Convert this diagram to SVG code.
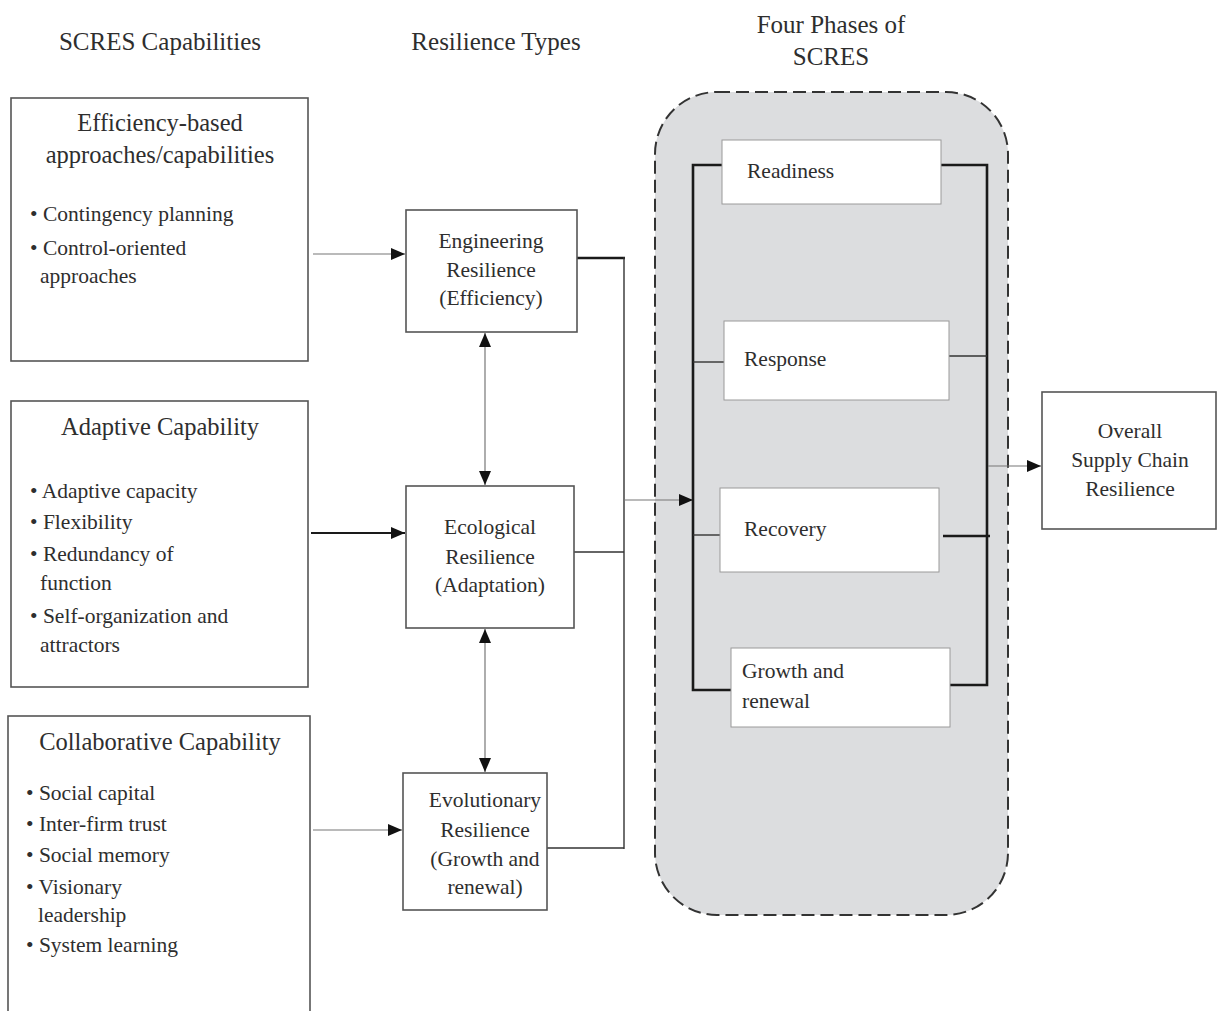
<svg xmlns="http://www.w3.org/2000/svg" width="1217" height="1011" viewBox="0 0 1217 1011">
  <style>
    text { font-family: "Liberation Serif", "Times New Roman", serif; fill: #2e2e2e; }
    .hdr { font-size: 25px; text-anchor: middle; }
    .ttl { font-size: 24.5px; text-anchor: middle; }
    .bul { font-size: 21.5px; }
    .mid { font-size: 21.5px; text-anchor: middle; }
    .box { fill: #ffffff; stroke: #555555; stroke-width: 1.6; }
    .phase { fill: #ffffff; stroke: #9a9a9a; stroke-width: 1; }
    .thin { stroke: #333333; stroke-width: 1.4; fill: none; }
    .grey { stroke: #777777; stroke-width: 1.2; fill: none; }
    .thick { stroke: #1a1a1a; stroke-width: 2.6; fill: none; }
    .mid2 { stroke: #1a1a1a; stroke-width: 2; fill: none; }
  </style>
  <defs>
    <marker id="arrow" viewBox="0 0 14 12" refX="14" refY="6" markerWidth="14" markerHeight="12" markerUnits="userSpaceOnUse" orient="auto-start-reverse">
      <path d="M0,0 L14,6 L0,12 Z" fill="#111111"/>
    </marker>
  </defs>

  <!-- column headings -->
  <g id="headings">
    <text class="hdr" x="160" y="50">SCRES Capabilities</text>
    <text class="hdr" x="496" y="50">Resilience Types</text>
    <text class="hdr" x="831" y="33">Four Phases of</text>
    <text class="hdr" x="831" y="65">SCRES</text>
  </g>

  <!-- phase container -->
  <g id="phase-container">
    <rect x="655" y="92" width="353" height="823" rx="62" ry="62" fill="#dcdddf" stroke="#333333" stroke-width="2" stroke-dasharray="13 6"/>
  </g>

  <!-- connectors -->
  <g id="connectors">
    <!-- capabilities to resilience types -->
    <line class="grey" x1="313" y1="254" x2="405" y2="254" marker-end="url(#arrow)"/>
    <line class="mid2" x1="311" y1="533" x2="405" y2="533" marker-end="url(#arrow)"/>
    <line class="grey" x1="313" y1="830" x2="402" y2="830" marker-end="url(#arrow)"/>
    <!-- between resilience types -->
    <line class="grey" x1="485" y1="333" x2="485" y2="485" marker-start="url(#arrow)" marker-end="url(#arrow)"/>
    <line class="grey" x1="485" y1="629" x2="485" y2="772" marker-start="url(#arrow)" marker-end="url(#arrow)"/>
    <!-- resilience types to collector -->
    <line class="thick" x1="577" y1="258" x2="625" y2="258"/>
    <line class="thin" x1="624" y1="257" x2="624" y2="849"/>
    <line class="thin" x1="574" y1="552" x2="624" y2="552"/>
    <line class="thin" x1="547" y1="848" x2="624" y2="848"/>
    <line class="grey" x1="624" y1="500" x2="693" y2="500" marker-end="url(#arrow)"/>
    <!-- left bracket of phases -->
    <path class="thick" d="M722,165 L693,165 L693,690 L731,690"/>
    <line class="thin" x1="693" y1="362" x2="724" y2="362"/>
    <line class="thin" x1="693" y1="535" x2="720" y2="535"/>
    <!-- right bracket of phases -->
    <path class="thick" d="M941,165 L987,165 L987,685 L950,685"/>
    <line class="thin" x1="949" y1="356" x2="987" y2="356"/>
    <line class="thick" x1="943" y1="536" x2="990" y2="536"/>
    <!-- to overall resilience -->
    <line class="grey" x1="988" y1="466" x2="1041" y2="466" marker-end="url(#arrow)"/>
  </g>

  <!-- capability boxes -->
  <g id="efficiency-capabilities">
    <rect class="box" x="11" y="98" width="297" height="263"/>
    <text class="ttl" x="160" y="131">Efficiency-based</text>
    <text class="ttl" x="160" y="163">approaches/capabilities</text>
    <text class="bul" x="30" y="221">• Contingency planning</text>
    <text class="bul" x="30" y="255">• Control-oriented</text>
    <text class="bul" x="40" y="283">approaches</text>
  </g>

  <g id="adaptive-capability">
    <rect class="box" x="11" y="401" width="297" height="286"/>
    <text class="ttl" x="160" y="435">Adaptive Capability</text>
    <text class="bul" x="30" y="498">• Adaptive capacity</text>
    <text class="bul" x="30" y="529">• Flexibility</text>
    <text class="bul" x="30" y="561">• Redundancy of</text>
    <text class="bul" x="40" y="590">function</text>
    <text class="bul" x="30" y="623">• Self-organization and</text>
    <text class="bul" x="40" y="652">attractors</text>
  </g>

  <g id="collaborative-capability">
    <rect class="box" x="8" y="716" width="302" height="310"/>
    <text class="ttl" x="160" y="750">Collaborative Capability</text>
    <text class="bul" x="26" y="800">• Social capital</text>
    <text class="bul" x="26" y="831">• Inter-firm trust</text>
    <text class="bul" x="26" y="862">• Social memory</text>
    <text class="bul" x="26" y="894">• Visionary</text>
    <text class="bul" x="38" y="922">leadership</text>
    <text class="bul" x="26" y="952">• System learning</text>
  </g>

  <!-- resilience type boxes -->
  <g id="engineering-resilience">
    <rect class="box" x="406" y="210" width="171" height="122"/>
    <text class="mid" x="491" y="248">Engineering</text>
    <text class="mid" x="491" y="277">Resilience</text>
    <text class="mid" x="491" y="305">(Efficiency)</text>
  </g>

  <g id="ecological-resilience">
    <rect class="box" x="406" y="486" width="168" height="142"/>
    <text class="mid" x="490" y="534">Ecological</text>
    <text class="mid" x="490" y="564">Resilience</text>
    <text class="mid" x="490" y="592">(Adaptation)</text>
  </g>

  <g id="evolutionary-resilience">
    <rect class="box" x="403" y="773" width="144" height="137"/>
    <text class="mid" x="485" y="807">Evolutionary</text>
    <text class="mid" x="485" y="837">Resilience</text>
    <text class="mid" x="485" y="866">(Growth and</text>
    <text class="mid" x="485" y="894">renewal)</text>
  </g>

  <!-- phase boxes -->
  <g id="readiness">
    <rect class="phase" x="722" y="140" width="219" height="64"/>
    <text class="bul" x="747" y="178">Readiness</text>
  </g>

  <g id="response">
    <rect class="phase" x="724" y="321" width="225" height="79"/>
    <text class="bul" x="744" y="366">Response</text>
  </g>

  <g id="recovery">
    <rect class="phase" x="720" y="488" width="219" height="84"/>
    <text class="bul" x="744" y="536">Recovery</text>
  </g>

  <g id="growth-renewal">
    <rect class="phase" x="731" y="648" width="219" height="79"/>
    <text class="bul" x="742" y="678">Growth and</text>
    <text class="bul" x="742" y="708">renewal</text>
  </g>

  <!-- outcome -->
  <g id="overall-resilience">
    <rect class="box" x="1042" y="392" width="174" height="137"/>
    <text class="mid" x="1130" y="438">Overall</text>
    <text class="mid" x="1130" y="467">Supply Chain</text>
    <text class="mid" x="1130" y="496">Resilience</text>
  </g>
</svg>
